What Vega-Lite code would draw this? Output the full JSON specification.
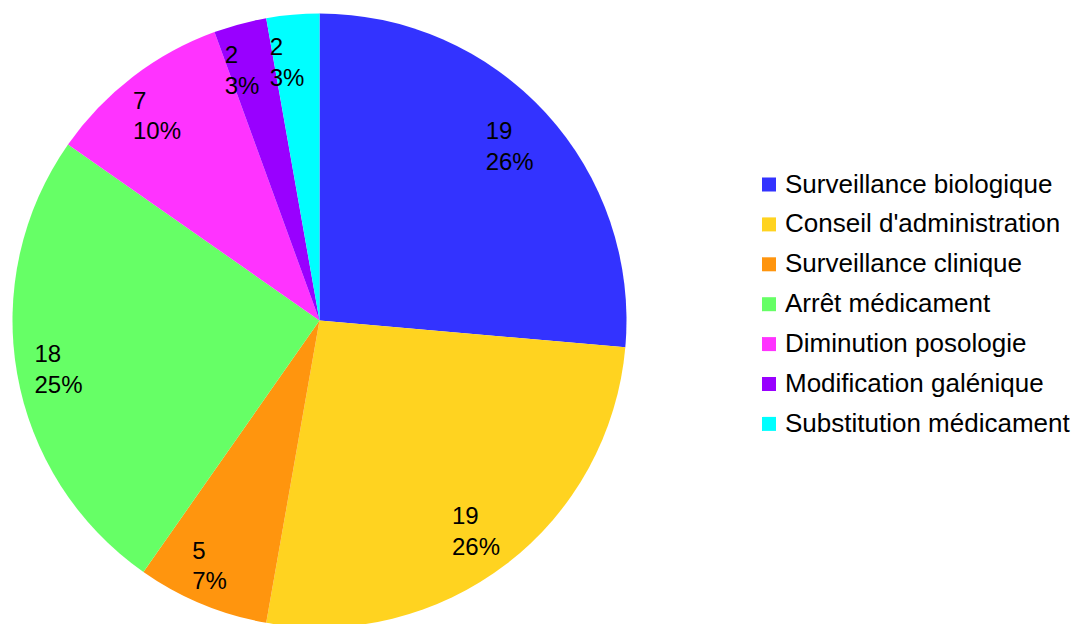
{
  "$schema": "https://vega.github.io/schema/vega-lite/v6.json",
  "width": 639,
  "height": 605,
  "autosize": {"type": "none"},
  "padding": {"left": 0, "top": 18, "right": 437, "bottom": 1},
  "background": "white",
  "config": {"view": {"stroke": null}, "font": "Liberation Sans"},
  "data": {
    "values": [
      {"cat": "Surveillance biologique", "value": 19, "ord": 1, "lbl": "19\n26%"},
      {"cat": "Conseil d'administration", "value": 19, "ord": 2, "lbl": "19\n26%"},
      {"cat": "Surveillance clinique", "value": 5, "ord": 3, "lbl": "5\n7%"},
      {"cat": "Arrêt médicament", "value": 18, "ord": 4, "lbl": "18\n25%"},
      {"cat": "Diminution posologie", "value": 7, "ord": 5, "lbl": "7\n10%"},
      {"cat": "Modification galénique", "value": 2, "ord": 6, "lbl": "2\n3%"},
      {"cat": "Substitution médicament", "value": 2, "ord": 7, "lbl": "2\n3%"}
    ]
  },
  "encoding": {
    "theta": {"field": "value", "type": "quantitative", "stack": true},
    "order": {"field": "ord", "type": "quantitative", "sort": "ascending"}
  },
  "layer": [
    {
      "mark": {"type": "arc", "outerRadius": 307, "strokeWidth": 0},
      "encoding": {
        "color": {
          "field": "cat",
          "type": "nominal",
          "scale": {
            "domain": ["Surveillance biologique", "Conseil d'administration", "Surveillance clinique", "Arrêt médicament", "Diminution posologie", "Modification galénique", "Substitution médicament"],
            "range": ["#3333ff", "#ffd320", "#ff950e", "#66ff66", "#ff33ff", "#9900ff", "#00ffff"]
          },
          "legend": {
            "title": null,
            "orient": "none",
            "legendX": 756,
            "legendY": 153.5,
            "padding": 0,
            "symbolType": "square",
            "symbolSize": 196,
            "symbolStrokeWidth": 0,
            "labelFont": "Liberation Sans",
            "labelFontSize": 26,
            "labelColor": "black",
            "labelOffset": 3,
            "labelLimit": 400,
            "rowPadding": 13.9
          }
        }
      }
    },
    {
      "mark": {"type": "text", "radius": 262, "align": "left", "dx": -27, "dy": -11, "baseline": "middle", "fontSize": 24, "lineHeight": 30.6, "lineBreak": "\n", "color": "black", "font": "Liberation Sans"},
      "encoding": {"text": {"field": "lbl", "type": "nominal"}}
    }
  ]
}
